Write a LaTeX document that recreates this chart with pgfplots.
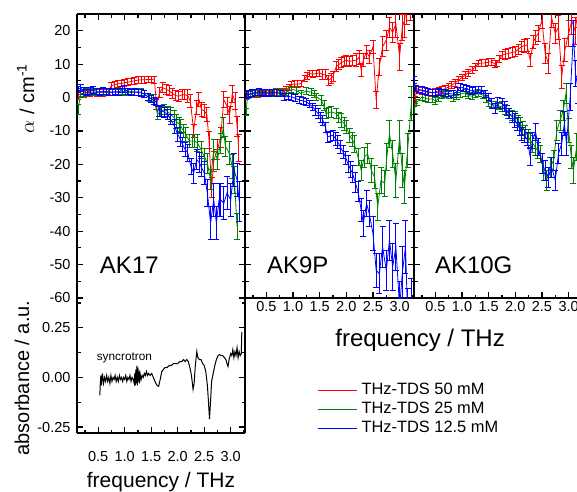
\documentclass[border=0pt]{standalone}
\usepackage{fontspec}
\setmainfont{Liberation Sans}
\usepackage{pgfplots}
\pgfplotsset{compat=1.18}

\definecolor{tdsred}{RGB}{255,0,0}
\definecolor{tdsgreen}{RGB}{0,128,0}
\definecolor{tdsblue}{RGB}{0,0,255}

\pgfplotsset{
  panel/.style={
    scale only axis, width=168pt,
    xmin=0.1, xmax=3.27,
    xtick={0.5,1,...,3}, minor xtick={0.25,0.75,...,3.25},
    tick align=inside,
    major tick length=6pt, minor tick length=3.5pt,
    every tick/.style={black, line width=1.2pt},
    tick label style={font=\fontsize{14.5}{17}\selectfont},
    /pgf/number format/assume math mode=true,
    xticklabel style={/pgf/number format/fixed, /pgf/number format/fixed zerofill,
      /pgf/number format/precision=1},
    yticklabel style={xshift=-3pt},
  },
  frame/.style={axis line style={-, line width=1.6pt}},
  tds/.style={line width=0.8pt, no markers,
    error bars/y dir=both, error bars/y explicit,
    error bars/error bar style={line width=0.8pt},
    error bars/error mark options={rotate=90, mark size=3pt, line width=0.8pt}},
}

\begin{document}
\begin{tikzpicture}
\path[use as bounding box] (0,0) rectangle (577pt,-491pt);

% ---- AK17 (top left)
\begin{axis}[panel, at={(77pt,-14pt)}, anchor=north west, height=287pt,
  ymin=-60.9, ymax=25, ytick={-60,-50,...,20}, minor ytick={-55,-45,...,25},
  axis x line*=top, axis y line=box, xticklabels={}, frame,
  ylabel={$\alpha$ / cm\textsuperscript{-1}},
  ylabel style={at={(axis description cs:-0.305,0.705)}, anchor=center,
    font=\fontsize{20}{24}\selectfont}]
\addplot[tdsred, tds] table[y error index=2] {
0.12 0.5 1
0.17 1.2 1
0.23 1.0 1
0.29 1.4 1
0.35 1.2 1
0.41 1.5 1
0.47 1.3 1
0.53 1.6 1
0.59 1.4 1
0.65 1.5 1
0.69 1.8 1
0.75 3.6 1
0.81 3.8 1
0.87 4.1 1
0.93 4.2 1
0.99 4.4 1
1.06 4.6 1
1.12 4.8 1
1.18 5.0 1
1.25 5.2 1
1.31 5.3 1
1.37 5.3 1
1.44 5.4 1
1.50 5.4 1
1.56 5.3 1
1.60 -2.1 1.5
1.66 1.5 1.5
1.72 2.9 1.5
1.78 2.5 1.5
1.84 2.0 1.5
1.90 1.2 1.5
1.96 0.6 1.5
2.02 0.4 1.5
2.08 0.8 1.5
2.13 0.9 1.5
2.19 0.5 2
2.24 -1.1 2
2.30 -10 2
2.36 -3 2
2.40 -0.6 2
2.45 -3.6 2
2.50 -4.0 2
2.55 -5 2
2.59 -12.6 2.5
2.64 -27 3
2.68 -19 3
2.75 -15.6 3
2.81 -12 3
2.87 -0.6 2.5
2.93 -2.6 2.5
2.98 -5.1 2.5
3.03 1.0 2.5
3.08 -1 2.5
3.12 -8.6 3
3.15 -15 4
};
\addplot[tdsgreen, tds] table[y error index=2] {
0.12 -3.6 1.5
0.17 1.0 1
0.23 1.4 1
0.29 1.6 1
0.35 1.5 1
0.41 1.7 1
0.47 1.5 1
0.53 1.6 1
0.59 1.7 1
0.65 1.5 1
0.71 1.6 1
0.77 1.7 1
0.83 1.6 1
0.89 1.5 1
0.95 1.8 1
1.01 1.7 1
1.07 1.6 1
1.13 1.8 1
1.19 1.6 1
1.25 1.7 1
1.31 1.6 1
1.37 1.0 1
1.47 -0.1 1
1.55 -0.6 1.5
1.62 -5.1 1.5
1.68 -4.2 1.5
1.75 -3.6 1.5
1.81 -4.2 1.5
1.87 -5.1 2
1.93 -6.0 2
1.97 -7.1 2
2.03 -8.0 2
2.06 -8.6 2
2.11 -10 2
2.15 -11 2
2.22 -13 2
2.27 -13 2
2.31 -13 2
2.37 -13.5 2.5
2.44 -15.6 2.5
2.50 -17.6 2.5
2.56 -19.6 3
2.62 -24.6 3
2.68 -15.6 3
2.75 -18.6 3
2.81 -13.6 3
2.86 -9 3
2.90 -14.6 3
2.97 -16.6 3.5
3.03 -20.6 3.5
3.07 -24.6 4
3.12 -38.6 4
};
\addplot[tdsblue, tds] table[y error index=2] {
0.12 2.4 1
0.17 2.8 1
0.23 2.0 1
0.29 1.5 1
0.35 2.0 1
0.41 2.3 1
0.47 1.8 1
0.53 1.6 1
0.59 1.9 1
0.65 1.8 1
0.71 1.6 1
0.77 1.5 1
0.83 1.8 1
0.89 1.6 1
0.95 2.4 1
0.99 2.6 1
1.06 1.8 1
1.12 1.5 1
1.19 1.7 1
1.25 1.5 1
1.31 1.4 1
1.37 1.0 1
1.44 0.2 1
1.50 -0.4 1
1.56 -1.0 1
1.60 -1.3 1
1.65 -4.1 1.5
1.70 -4.0 1.5
1.75 -4.4 1.5
1.81 -5.0 1.5
1.87 -6.6 1.5
1.94 -8.6 2
2.00 -11 2
2.05 -12.5 2
2.09 -14 2
2.14 -15.5 2
2.19 -16.6 2.5
2.25 -20.6 2.5
2.30 -22.6 3
2.36 -18.6 3
2.41 -19.5 3
2.44 -20.6 3
2.50 -22.6 3.5
2.56 -28.6 4
2.62 -37.6 5
2.68 -30.6 5
2.73 -37.6 5
2.78 -30.6 5
2.81 -30.6 5
2.87 -31.6 5
2.93 -28.6 5
3.00 -30.6 5
3.06 -21.6 5
3.12 -24.6 5
3.16 -31 6
};
\node[anchor=west, inner sep=0pt, font=\fontsize{24}{28}\selectfont] at (axis cs:0.53,-50.3) {AK17};
\end{axis}

% ---- syncrotron (bottom left)
\begin{axis}[panel, at={(77pt,-301pt)}, anchor=north west, height=132pt,
  ymin=-0.28, ymax=0.385, ytick={-0.25,0,0.25}, minor ytick={-0.125,0.125,0.375},
  axis x line*=bottom, axis y line=box, frame,
  yticklabel style={/pgf/number format/fixed, /pgf/number format/fixed zerofill,
    /pgf/number format/precision=2},
  xticklabel shift=9pt,
  every x tick label/.append style={yshift=-6pt},
  xlabel={frequency / THz},
  xlabel style={at={(axis description cs:0.5,0)}, anchor=north, inner sep=0pt,
    yshift=-39pt, font=\fontsize{21}{25}\selectfont},
  ylabel={absorbance / a.u.},
  ylabel style={at={(axis description cs:-0.327,0.417)}, anchor=center,
    font=\fontsize{20}{24}\selectfont}]
\addplot[black, line width=1pt] table {
0.53 -0.09
0.54 -0.03
0.55 0.01
0.56 -0.04
0.57 -0.01
0.58 0.02
0.60 -0.03
0.62 0.00
0.64 -0.02
0.66 0.01
0.68 -0.02
0.70 0.00
0.72 -0.03
0.74 0.01
0.76 -0.02
0.78 0.00
0.80 -0.01
0.82 0.01
0.84 -0.02
0.86 0.00
0.88 -0.02
0.90 0.01
0.92 -0.01
0.94 0.00
0.96 -0.02
0.98 0.00
1.00 -0.01
1.02 0.01
1.04 -0.02
1.06 0.00
1.08 -0.01
1.10 0.01
1.12 -0.02
1.14 0.00
1.16 -0.01
1.18 -0.03
1.19 0.02
1.20 -0.04
1.21 0.04
1.22 -0.03
1.23 0.06
1.24 -0.04
1.25 0.05
1.26 -0.02
1.27 0.03
1.28 -0.03
1.29 0.02
1.31 -0.01
1.33 0.01
1.35 0.00
1.37 0.02
1.39 0.01
1.41 0.03
1.43 0.01
1.45 0.02
1.48 0.01
1.51 0.02
1.54 0.00
1.57 -0.02
1.61 -0.04
1.64 -0.045
1.67 -0.01
1.70 0.03
1.73 0.04
1.76 0.05
1.80 0.05
1.84 0.06
1.88 0.06
1.92 0.07
1.96 0.07
2.00 0.07
2.04 0.08
2.08 0.08
2.11 0.09
2.14 0.08
2.17 0.09
2.20 0.08
2.23 0.05
2.26 0.01
2.29 -0.06
2.31 -0.03
2.33 0.05
2.36 0.13
2.38 0.10
2.41 0.09
2.44 0.09
2.47 0.07
2.50 0.06
2.53 0.03
2.56 -0.04
2.58 -0.12
2.60 -0.21
2.62 -0.12
2.64 -0.02
2.67 0.02
2.70 0.06
2.73 0.09
2.76 0.11
2.79 0.115
2.82 0.11
2.85 0.11
2.88 0.10
2.91 0.09
2.93 0.07
2.95 0.055
2.97 0.09
3.00 0.12
3.02 0.11
3.04 0.14
3.06 0.10
3.08 0.13
3.10 0.11
3.12 0.15
3.14 0.10
3.16 0.13
3.18 0.11
3.20 0.12
3.21 0.23
};
\node[anchor=west, inner sep=0pt, font=\fontsize{11.8}{14}\selectfont] at (axis cs:0.47,0.10) {syncrotron};
\end{axis}

% ---- AK9P
\begin{axis}[panel, at={(245pt,-14pt)}, anchor=north west, width=169pt, height=284pt,
  ymin=-60, ymax=25, ytick={-60,-50,...,20}, minor ytick={-55,-45,...,25},
  yticklabels={}, frame,
  xlabel={frequency / THz},
  xlabel style={at={(axis description cs:1.036,0)}, anchor=north, inner sep=0pt,
    yshift=-31pt, font=\fontsize{24}{28}\selectfont},
  legend cell align=left,
  legend style={at={(0.408,-0.29)}, anchor=north west, draw=none, fill=none,
    font=\fontsize{16.4}{19}\selectfont, row sep=3pt,
    nodes={inner sep=1pt, text height=11pt, text depth=3pt}}]
\addplot[tdsred, tds, forget plot] table[y error index=2] {
0.12 0.5 1
0.17 0.9 1
0.23 1.0 1
0.29 1.2 1
0.35 1.0 1
0.41 1.3 1
0.47 1.2 1
0.53 1.4 1
0.59 1.3 1
0.65 1.4 1
0.71 1.5 1
0.77 1.6 1
0.83 1.8 1
0.87 2.2 1
0.93 3.0 1
0.97 3.9 1
1.03 4.0 1
1.09 4.0 1
1.15 4.2 1
1.22 5.7 1
1.27 6.5 1
1.31 7.2 1
1.37 7.0 1
1.44 7.2 1
1.50 7.4 1
1.55 6.9 1.5
1.61 6.8 1.5
1.67 5.2 1.5
1.72 5.8 1.5
1.75 6.4 1.5
1.81 9.2 1.5
1.86 9.8 1.5
1.90 10.4 1.5
1.96 10.8 1.5
2.00 11.2 1.5
2.06 10.8 1.5
2.12 11.0 1.5
2.19 11.2 2
2.24 12.0 2
2.28 8.2 2
2.32 11.2 2
2.38 13.7 2
2.43 12.2 2
2.50 15.2 2
2.56 -0.8 2.5
2.62 9.2 2.5
2.68 15.2 3
2.75 17.2 3
2.81 21.0 3
2.87 19.5 3
2.93 22.0 4
3.00 12.2 4
3.05 21.0 4
3.09 23.0 5
3.13 27.0 5
3.20 28 5
};
\addplot[tdsgreen, tds, forget plot] table[y error index=2] {
0.12 -4.3 1
0.15 0.7 1
0.21 1.0 1
0.27 1.2 1
0.33 1.4 1
0.39 1.3 1
0.45 1.4 1
0.51 1.5 1
0.57 1.4 1
0.63 1.4 1
0.69 1.6 1
0.75 1.5 1
0.81 1.4 1
0.87 1.5 1
0.97 2.4 1
1.06 2.2 1
1.15 1.2 1
1.25 1.9 1
1.34 1.6 1
1.40 1.0 1
1.44 0.2 1
1.53 -0.8 1.5
1.58 -2.5 1.5
1.62 -4.8 1.5
1.67 -4.5 1.5
1.72 -4.3 1.5
1.81 -4.8 1.5
1.86 -5.8 1.5
1.90 -6.8 2
1.96 -7.8 2
2.00 -8.8 2
2.06 -11.3 2
2.11 -12.5 2
2.15 -13.8 2.5
2.22 -17.8 2.5
2.28 -21.8 3
2.34 -17.8 3
2.40 -16.8 3
2.47 -21.8 3.5
2.53 -23.8 3.5
2.59 -32.7 4
2.65 -24.8 4
2.72 -25.7 4
2.76 -17.8 4
2.81 -10.8 4
2.87 -16.8 4
2.93 -24.8 5
3.00 -11.8 5
3.05 -21.8 5
3.09 -26.7 5
3.15 -15.8 5
3.22 -1.8 5
};
\addplot[tdsblue, tds, forget plot] table[y error index=2] {
0.12 0.7 1
0.17 1.0 1
0.23 1.3 1
0.29 1.5 1
0.37 1.7 1
0.43 1.4 1
0.49 1.5 1
0.55 1.3 1
0.61 1.5 1
0.69 1.4 1
0.77 1.2 1
0.84 0.2 1
0.91 0.3 1
0.97 0.2 1
1.04 -0.2 1
1.12 -0.8 1
1.19 -1.0 1
1.25 -1.3 1
1.31 -2.0 1
1.37 -2.8 1
1.42 -3.8 1.5
1.47 -4.8 1.5
1.52 -5.8 1.5
1.56 -6.8 1.5
1.61 -9 1.5
1.65 -11.8 1.5
1.70 -11.5 1.5
1.75 -11.3 1.5
1.80 -12.3 2
1.84 -13.3 2
1.89 -14.8 2
1.94 -16.3 2
1.99 -18 2
2.03 -19.8 2.5
2.08 -21.5 2.5
2.12 -22.8 2.5
2.17 -25.5 3
2.22 -28.2 3
2.28 -33.7 3.5
2.32 -37.7 4
2.38 -31.7 4
2.43 -34.7 4
2.50 -40.7 5
2.56 -51.7 5
2.62 -52.7 6
2.68 -44.7 6
2.75 -51.7 6
2.81 -42.7 6
2.87 -50.7 7
2.93 -44.7 7
3.00 -63 8
3.05 -52.7 8
3.11 -44.7 8
3.15 -65 8
3.22 -62 8
};
\addlegendimage{legend image code/.code={\draw[draw=tdsred, line width=0.8pt] (0pt,0pt) -- (39pt,0pt); \draw[draw=none] (39pt,0pt) -- (43pt,0pt);}}
\addlegendentry{THz-TDS 50 mM}
\addlegendimage{legend image code/.code={\draw[draw=tdsgreen, line width=0.8pt] (0pt,0pt) -- (39pt,0pt); \draw[draw=none] (39pt,0pt) -- (43pt,0pt);}}
\addlegendentry{THz-TDS 25 mM}
\addlegendimage{legend image code/.code={\draw[draw=tdsblue, line width=0.8pt] (0pt,0pt) -- (39pt,0pt); \draw[draw=none] (39pt,0pt) -- (43pt,0pt);}}
\addlegendentry{THz-TDS 12.5 mM}
\node[anchor=west, inner sep=0pt, font=\fontsize{24}{28}\selectfont] at (axis cs:0.51,-50.3) {AK9P};
\end{axis}

% ---- AK10G
\begin{axis}[panel, at={(414pt,-14pt)}, anchor=north west, width=169pt, height=284pt,
  ymin=-60, ymax=25, ytick={-60,-50,...,20}, minor ytick={-55,-45,...,25},
  yticklabels={}, frame]
\addplot[tdsred, tds] table[y error index=2] {
0.12 -0.8 1
0.15 2.2 1
0.25 2.0 1
0.35 1.6 1
0.44 1.4 1
0.50 1.7 1
0.56 2.0 1
0.62 2.3 1
0.69 2.7 1
0.75 3.2 1
0.81 3.7 1
0.87 4.4 1
0.94 5.2 1
1.00 6.0 1
1.06 6.7 1
1.12 7.4 1
1.19 8.2 1
1.25 9.2 1
1.31 10.2 1
1.37 10.3 1
1.44 10.4 1
1.50 10.6 1
1.56 10.7 1
1.62 10.0 1
1.65 10.2 1
1.70 11.5 1
1.75 12.7 1
1.81 13.0 1.5
1.87 13.2 1.5
1.94 13.5 1.5
2.00 13.7 1.5
2.06 14.5 1.5
2.12 15.2 1.5
2.17 15.5 2
2.22 15.7 2
2.28 11.2 2
2.34 16.7 2
2.38 18.0 2
2.43 19.2 2.5
2.50 23.2 2.5
2.56 13.2 3
2.62 10.2 3
2.68 24.0 3
2.75 19.2 3
2.81 21.0 3.5
2.87 6.2 3.5
2.93 14.2 3.5
3.00 19.2 4
3.06 23.0 4
3.12 20.0 4
3.18 26 5
};
\addplot[tdsgreen, tds] table[y error index=2] {
0.10 -3.8 1
0.15 -1.5 1
0.25 0.2 1
0.31 -0.2 1
0.37 -0.5 1
0.44 -0.4 1
0.50 -1.0 1
0.56 -0.3 1
0.62 0.7 1
0.69 1.0 1
0.75 0.8 1
0.84 -0.3 1
0.90 0.4 1
0.97 1.0 1
1.06 1.4 1
1.12 0.6 1
1.19 0.4 1
1.25 0.9 1
1.31 1.2 1
1.40 0.7 1
1.45 -0.5 1
1.50 -1.8 1
1.56 -2.1 1
1.62 -2.3 1
1.69 -2.5 1
1.75 -2.8 1.5
1.81 -3.6 1.5
1.87 -4.8 1.5
1.94 -5.3 1.5
2.00 -5.8 1.5
2.05 -6.8 1.5
2.09 -7.8 2
2.14 -9.0 2
2.19 -10.3 2
2.24 -11.5 2
2.28 -12.8 2
2.33 -13.8 2.5
2.37 -14.8 2.5
2.42 -15.8 2.5
2.47 -16.8 2.5
2.53 -21.8 3
2.59 -24.8 3
2.65 -20.8 3
2.72 -18.8 3
2.78 -9.8 3
2.84 -6.8 3
2.90 -3.8 3
2.95 1.2 3
3.00 -9.8 3.5
3.05 -17.8 3.5
3.09 -21.8 4
3.15 -14.8 4
3.21 -28.7 4
};
\addplot[tdsblue, tds] table[y error index=2] {
0.10 5.2 1
0.13 2.7 1
0.19 2.4 1
0.25 2.2 1
0.31 2.0 1
0.37 1.7 1
0.44 1.5 1
0.50 1.4 1
0.56 1.7 1
0.62 1.5 1
0.69 1.3 1
0.75 1.2 1
0.84 1.0 1
0.91 2.0 1
0.97 3.2 1
1.03 2.8 1
1.09 2.7 1
1.14 2.2 1
1.19 2.0 1
1.25 2.3 1
1.31 2.4 1
1.37 2.2 1
1.44 1.0 1
1.50 0.2 1
1.56 -1.8 1.5
1.62 -3.3 1.5
1.67 -1.6 1.5
1.75 -1.8 1.5
1.80 -2.8 1.5
1.84 -3.8 1.5
1.89 -4.8 1.5
1.94 -5.8 1.5
1.99 -6.8 2
2.03 -7.8 2
2.08 -9.3 2
2.12 -10.8 2
2.17 -11.5 2
2.22 -12.3 2
2.28 -17.8 2.5
2.32 -12.8 2.5
2.38 -10.3 2.5
2.43 -14.8 2.5
2.50 -19.8 3
2.56 -21.8 3
2.62 -23.8 3
2.68 -20.8 3
2.75 -24.8 3
2.81 -16.8 3
2.87 -13.8 3.5
2.92 -7.8 3.5
2.96 -13.8 3.5
3.03 0.2 4
3.09 19.2 4
3.13 7.2 4
3.18 2.2 4
};
\node[anchor=west, inner sep=0pt, font=\fontsize{24}{28}\selectfont] at (axis cs:0.49,-50.3) {AK10G};
\end{axis}
\end{tikzpicture}
\end{document}
